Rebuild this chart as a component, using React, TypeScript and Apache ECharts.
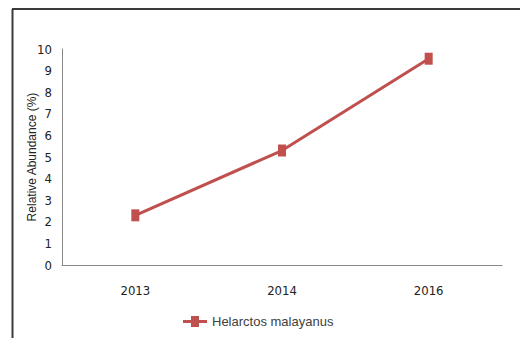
import React, { useEffect, useRef } from "react";
import * as echarts from "echarts";

const categories = ["2013", "2014", "2016"];
const abundance = [2.3, 5.3, 9.55];
const seriesName = "Helarctos malayanus";
const yAxisTitle = "Relative Abundance (%)";

const RED = "#C0504D";
const NARROW = "'Liberation Sans Narrow', 'Arial Narrow', 'DejaVu Sans Condensed', sans-serif";

export default function App() {
  const ref = useRef<HTMLDivElement>(null);
  useEffect(() => {
    if (!ref.current) return;
    const chart = echarts.init(ref.current, null, { renderer: "svg" });
    chart.setOption({
      animation: false,
      backgroundColor: "#ffffff",
      grid: { left: 62, right: 18, top: 49, bottom: 73, containLabel: false },
      graphic: [
        { type: "line", shape: { x1: 12.5, y1: 9, x2: 12.5, y2: 338 }, style: { stroke: "#3a3a3a", lineWidth: 2 } },
        { type: "line", shape: { x1: 12, y1: 9, x2: 520, y2: 9 }, style: { stroke: "#3a3a3a", lineWidth: 2 } },
      ],
      legend: {
        bottom: 5,
        left: 178,
        itemWidth: 24,
        itemHeight: 11,
        itemGap: 8,
        icon: "path://M0,4H24V7H0Z M8,0H16V11H8Z",
        textStyle: { fontFamily: "'Liberation Sans', Arial, sans-serif", fontSize: 13, color: "#404040" },
        data: [seriesName],
      },
      xAxis: {
        type: "category",
        data: categories,
        boundaryGap: true,
        axisLine: { lineStyle: { color: "#888888", width: 1 } },
        axisTick: { show: false },
        axisLabel: { margin: 19, fontFamily: NARROW, fontSize: 13, color: "#222222" },
      },
      yAxis: {
        type: "value",
        min: 0,
        max: 10,
        interval: 1,
        name: yAxisTitle,
        nameLocation: "middle",
        nameGap: 24,
        nameMoveOverlap: false,
        nameTextStyle: { fontFamily: "'Liberation Sans', Arial, sans-serif", fontSize: 12, color: "#222222" },
        axisLine: { show: true, lineStyle: { color: "#888888", width: 1 } },
        axisTick: { show: false },
        splitLine: { show: false },
        axisLabel: { margin: 10, fontFamily: NARROW, fontSize: 13, color: "#222222" },
      },
      series: [
        {
          name: seriesName,
          type: "line",
          data: abundance,
          symbol: "rect",
          symbolSize: [8, 12],
          lineStyle: { color: RED, width: 3 },
          itemStyle: { color: RED },
        },
      ],
    });
    return () => chart.dispose();
  }, []);
  return (
    <div
      ref={ref}
      style={{ position: "absolute", left: 0, top: 0, width: 520, height: 338 }}
    />
  );
}
